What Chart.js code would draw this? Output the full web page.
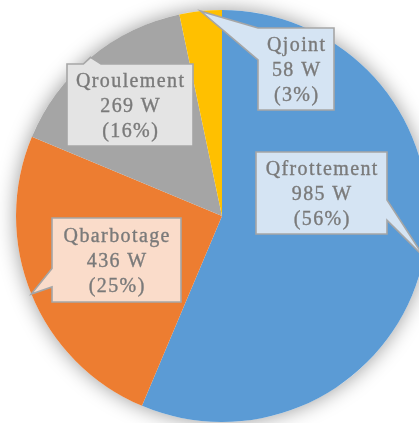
<!DOCTYPE html>
<html>
<head>
<meta charset="utf-8">
<script src="https://cdn.jsdelivr.net/npm/chart.js@4/dist/chart.umd.min.js"></script>
<style>
  html, body { margin: 0; padding: 0; background: #ffffff; }
  #wrap { width: 419px; height: 423px; overflow: hidden; position: relative; }
  #pie { position: absolute; left: 0; top: 0; }
</style>
</head>
<body>
<div id="wrap"><canvas id="pie" width="440" height="440"></canvas></div>
<script>
// Heat losses by source
const categories = ['Qfrottement', 'Qbarbotage', 'Qroulement', 'Qjoint'];
const watts = [985, 436, 269, 58];
const percentLabels = ['56%', '25%', '16%', '3%'];

const sliceColors = ['#5B9BD5', '#ED7D31', '#A5A5A5', '#FFC000'];
const boxColors = ['#D5E4F3', '#FADCCA', '#E4E4E4', '#D5E4F3'];

// Callout boxes, placed relative to the pie centre; the wedge sits on `side`
// between fractions f0..f1 of that side.
const calloutLayout = [
  { dx: 34,   dy: -64,  w: 131, h: 82, side: 'right', f0: 0.585, f1: 0.83 },
  { dx: -170, dy: 2,    w: 129, h: 84, side: 'left',  f0: 0.60,  f1: 0.82 },
  { dx: -155, dy: -152, w: 126, h: 82, side: 'top',   f0: 0.13,  f1: 0.27 },
  { dx: 36,   dy: -188, w: 76,  h: 82, side: 'left',  f0: 0.0,   f1: 0.39 }
];

function calloutPath(ctx, b, tip) {
  const { x, y, w, h, side, f0, f1 } = b;
  ctx.beginPath();
  ctx.moveTo(x, y);
  if (side === 'top') { ctx.lineTo(x + w * f0, y); ctx.lineTo(tip.x, tip.y); ctx.lineTo(x + w * f1, y); }
  ctx.lineTo(x + w, y);
  if (side === 'right') { ctx.lineTo(x + w, y + h * f0); ctx.lineTo(tip.x, tip.y); ctx.lineTo(x + w, y + h * f1); }
  ctx.lineTo(x + w, y + h);
  if (side === 'bottom') { ctx.lineTo(x + w * f1, y + h); ctx.lineTo(tip.x, tip.y); ctx.lineTo(x + w * f0, y + h); }
  ctx.lineTo(x, y + h);
  if (side === 'left') { ctx.lineTo(x, y + h * f1); ctx.lineTo(tip.x, tip.y); ctx.lineTo(x, y + h * f0); }
  ctx.closePath();
}

// Soft shadow behind the whole pie
const pieShadow = {
  id: 'pieShadow',
  beforeDatasetsDraw(chart) {
    const arc = chart.getDatasetMeta(0).data[0];
    if (!arc) return;
    const { x, y, outerRadius } = arc.getProps(['x', 'y', 'outerRadius'], true);
    const ctx = chart.ctx;
    ctx.save();
    ctx.shadowColor = 'rgba(0,0,0,0.4)';
    ctx.shadowBlur = 20;
    ctx.fillStyle = '#ffffff';
    ctx.beginPath();
    ctx.arc(x, y, outerRadius, 0, Math.PI * 2);
    ctx.fill();
    ctx.restore();
  }
};

// Callout data labels: name, value in W, share in %
const callouts = {
  id: 'callouts',
  afterDatasetsDraw(chart) {
    const ctx = chart.ctx;
    const meta = chart.getDatasetMeta(0);
    const values = chart.data.datasets[0].data;
    meta.data.forEach((arc, i) => {
      const p = arc.getProps(['x', 'y', 'startAngle', 'endAngle', 'outerRadius'], true);
      const mid = (p.startAngle + p.endAngle) / 2;
      const tip = { x: p.x + Math.cos(mid) * p.outerRadius, y: p.y + Math.sin(mid) * p.outerRadius };
      const L = calloutLayout[i];
      const box = { x: p.x + L.dx, y: p.y + L.dy, w: L.w, h: L.h, side: L.side, f0: L.f0, f1: L.f1 };
      ctx.save();
      calloutPath(ctx, box, tip);
      ctx.fillStyle = boxColors[i];
      ctx.fill();
      ctx.lineWidth = 1.6;
      ctx.strokeStyle = '#A6A6A6';
      ctx.lineJoin = 'miter';
      ctx.stroke();

      const lines = [chart.data.labels[i], values[i] + ' W', '(' + percentLabels[i] + ')'];
      ctx.fillStyle = '#7A7A7A';
      ctx.strokeStyle = '#7A7A7A';
      ctx.lineWidth = 0.35;
      ctx.font = '20px "Liberation Serif", "Times New Roman", serif';
      ctx.letterSpacing = '1.4px';
      ctx.textAlign = 'center';
      ctx.textBaseline = 'alphabetic';
      const cx = box.x + box.w / 2 + 0.7;
      const cy = box.y + box.h / 2;
      lines.forEach((t, k) => {
        const ty = cy + 6.5 + (k - 1) * 25;
        ctx.fillText(t, cx, ty);
        ctx.strokeText(t, cx, ty);
      });
      ctx.restore();
    });
  }
};

new Chart(document.getElementById('pie'), {
  type: 'pie',
  data: {
    labels: categories,
    datasets: [{
      data: watts,
      backgroundColor: sliceColors,
      borderWidth: 0,
      hoverOffset: 0,
      radius: 206
    }]
  },
  options: {
    responsive: false,
    devicePixelRatio: 1,
    animation: false,
    events: [],
    layout: { padding: { left: 16, top: 10, right: 12, bottom: 18 } },
    plugins: {
      legend: { display: false },
      tooltip: { enabled: false }
    }
  },
  plugins: [pieShadow, callouts]
});
</script>
</body>
</html>
